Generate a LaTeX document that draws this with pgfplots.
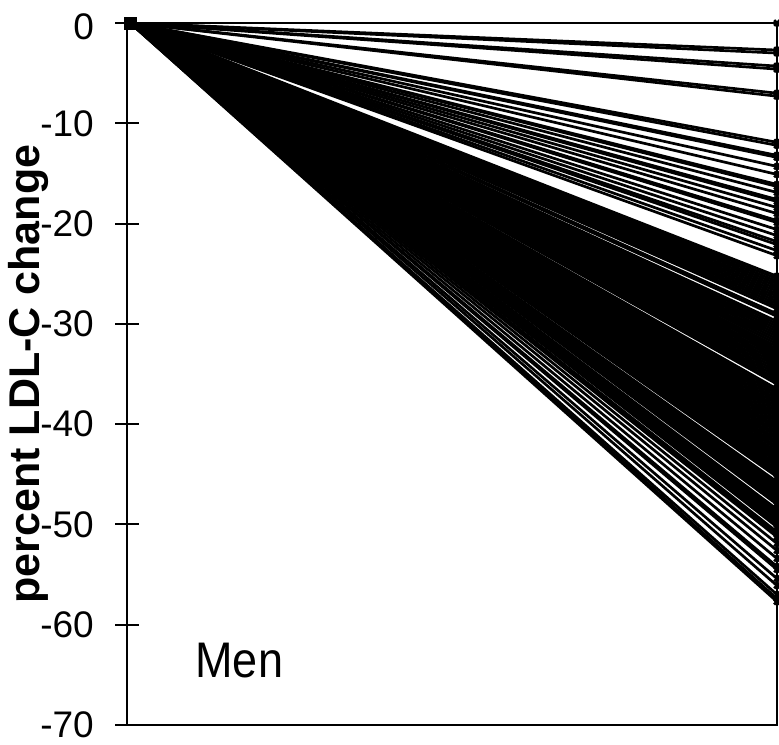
\documentclass[border=0pt]{standalone}
\usepackage{fontspec}
\setmainfont{Liberation Sans}
\usepackage{graphicx}
\usepackage{pgfplots}
\pgfplotsset{compat=1.18}
\begin{document}
\begin{tikzpicture}
\begin{axis}[
  name=ax,
  scale only axis, width=325pt, height=351pt,
  xmin=-0.005, xmax=1, ymin=-70, ymax=0,
  xtick=\empty,
  ytick={-70,-60,-50,-40,-30,-20,-10,0},
  yticklabels={-70,-60,-50,-40,-30,-20,-10,{\vphantom{0}\smash{\raisebox{-2pt}{0}}}},
  tick align=center, major tick length=11.5pt,
  ytick pos=left,
  axis line style={line width=1pt},
  every tick/.style={line width=1pt, black},
  yticklabel style={font=\fontsize{18.5}{20}\selectfont, xshift=-7.3pt},
]
\pgfplotsinvokeforeach{0,-2.7,-3.0,-4.3,-4.6,-7.0,-7.3,
 -11.9,-12.2,-13.2,-13.4,-14.3,-15.1,-16.1,-16.3,-16.9,-17.6,-17.8,-18.4,-19.0,-19.7,-19.9,-20.6,-21.2,-21.8,-22.1,-22.7,-23.2,
 -25.25,-25.5,-25.75,-26,-26.25,-26.5,-26.75,-27,-27.25,-27.5,-27.75,-28,-28.25,-28.5,-29,-29.25,-29.75,-30,-30.25,-30.5,-30.75,-31,-31.25,-31.5,-31.75,-32,-32.25,-32.5,-32.75,-33,-33.25,-33.5,-33.75,-34,-34.25,-34.5,-34.75,-35,-35.25,-35.5,-35.75,-36,-36.5,-36.75,-37,-37.25,-37.5,-37.75,-38,-38.25,-38.5,-38.75,-39,-39.25,-39.5,-39.75,-40,-40.25,-40.5,-40.75,-41,-41.25,-41.5,-41.75,-42,-42.25,-42.5,-42.75,-43,-43.25,-43.5,-43.75,-44,-44.25,-44.5,-44.75,-45,-45.25,-45.75,-46,-46.25,-46.5,-46.75,-47,-47.25,-47.5,-47.75,-48,-48.5,-48.75,-49,-49.25,-49.5,-49.75,-50,-50.25,-50.75,-51,-51.25,
 -51.9,-52.6,-53.4,-54.2,-54.5,-55.4,-56.1,-57.0,-57.4,-57.7}{
  \addplot[black, line width=1.35pt, mark=x, mark size=2pt, mark options={solid}] coordinates {(0,0) (1,#1)};
}
\addplot[black, only marks, mark=square*, mark size=3pt] coordinates {(0,0)};
\node[anchor=base west, font=\fontsize{25}{28}\selectfont] at (axis cs:0.09,-65.3) {\scalebox{0.9}[1]{Men}};
\end{axis}
\node[rotate=90, anchor=center, font=\fontsize{21.5}{24}\selectfont\bfseries] at ([xshift=-49.5pt]ax.west) {percent LDL-C change};
\pgfresetboundingbox
\path[use as bounding box] ([xshift=-63.5pt,yshift=-10pt]ax.south west) rectangle ([xshift=1pt,yshift=11.5pt]ax.north east);
\end{tikzpicture}
\end{document}
